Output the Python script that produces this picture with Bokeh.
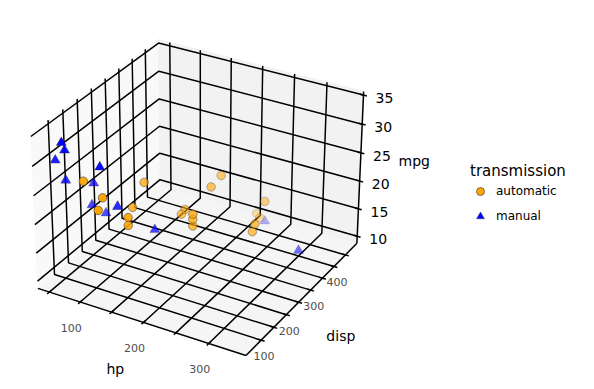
import numpy as np
from bokeh.plotting import figure
from bokeh.models import Range1d, ColumnDataSource, Legend, LegendItem
from bokeh.embed import file_html
from bokeh.resources import INLINE

auto_hp = [110, 175, 105, 245, 62, 95, 123, 123, 180, 180, 180, 205, 215, 230, 97, 150, 150, 245, 175]
auto_disp = [258, 360, 225, 360, 146.7, 140.8, 167.6, 167.6, 275.8, 275.8, 275.8, 472, 460, 440, 120.1, 318, 304, 350, 400]
auto_mpg = [21.4, 18.7, 18.1, 14.3, 24.4, 22.8, 19.2, 17.8, 16.4, 17.3, 15.2, 10.4, 10.4, 14.7, 21.5, 15.5, 15.2, 13.3, 19.2]
man_hp = [110, 110, 93, 66, 52, 65, 66, 91, 113, 264, 175, 335, 109]
man_disp = [160, 160, 108, 78.7, 75.7, 71.1, 79, 120.3, 95.1, 351, 145, 301, 121]
man_mpg = [21, 21, 22.8, 32.4, 30.4, 33.9, 27.3, 26, 30.4, 15.8, 19.7, 15, 21.4]

hp_ticks = [50, 100, 150, 200, 250, 300]
disp_ticks = [100, 150, 200, 250, 300, 350, 400, 450]
mpg_ticks = [10, 15, 20, 25, 30, 35]
hp_labels = ["", "100", "", "200", "", "300"]
disp_labels = ["100", "", "200", "", "300", "", "400", ""]
mpg_labels = ["10", "15", "20", "25", "30", "35"]

# limits of the box
g = np.array([[37.85, 349.15], [51.05, 492.05], [9.225, 35.075]])
span = g[:, 1] - g[:, 0]
b = np.array([g[:, 0] - span / 48, g[:, 1] + span / 48]).T
delta = span / 12

# ---- default 3D view: elev 30, azim -60, box aspect 4:4:3
aspect = np.array([4, 4, 3.0]) * 1.8294640721620434 / np.linalg.norm([4, 4, 3.0])
el, az, dist = np.radians(30), np.radians(-60), 10.0
R = aspect / 2
wv = np.array([np.cos(el) * np.cos(az), np.cos(el) * np.sin(az), np.sin(el)])
eye = R + dist * wv
uv = np.cross([0, 0, 1.0], wv)
uv /= np.linalg.norm(uv)
vv = np.cross(wv, uv)


def view(x, y, z):
    P = np.stack([np.asarray(x, float), np.asarray(y, float), np.asarray(z, float)], -1)
    B = (P - b[:, 0]) / (b[:, 1] - b[:, 0]) * aspect - eye
    d = -(B @ wv)
    return (B @ uv) / d, (B @ vv) / d, d


# ---- view coordinates to the page: fitted on the box corners seen in the picture
corner_idx = [(0, 0, 0), (1, 0, 0), (1, 1, 0), (1, 1, 1), (0, 1, 1), (0, 0, 1)]
corner_px = [(37.3, 287.7), (245.7, 355.5), (356, 242.3), (363.3, 90.5), (158.3, 39.5), (30, 132.5)]
cv = [view(b[0, i], b[1, j], b[2, k])[:2] for i, j, k in corner_idx]
sx, tx = np.polyfit([c[0] for c in cv], [c[0] for c in corner_px], 1)
sy, ty = np.polyfit([c[1] for c in cv], [c[1] for c in corner_px], 1)

W, H = 590, 385
p = figure(width=W, height=H, output_backend="svg", toolbar_location=None,
           x_range=Range1d((0 - tx) / sx, (W - tx) / sx),
           y_range=Range1d((H - ty) / sy, (0 - ty) / sy),
           x_axis_location=None, y_axis_location=None, min_border=0,
           outline_line_color=None, background_fill_color="white")
p.grid.visible = False


def pts(*xyz):
    a = np.array(xyz, float)
    xv, yv, _ = view(a[:, 0], a[:, 1], a[:, 2])
    return list(xv), list(yv)


xl, xh, yl, yh, zl, zh = b.ravel()

# panes
for corners, col in [
    (((xl, yl, zl), (xl, yh, zl), (xl, yh, zh), (xl, yl, zh)), "#f9f9f9"),
    (((xl, yh, zl), (xh, yh, zl), (xh, yh, zh), (xl, yh, zh)), "#f2f2f2"),
    (((xl, yl, zl), (xh, yl, zl), (xh, yh, zl), (xl, yh, zl)), "#f5f5f5"),
]:
    xs, ys = pts(*corners)
    p.patch(xs, ys, fill_color=col, line_color=col, line_width=1)

# grid lines
gx, gy = [], []
for t in hp_ticks:
    a, c = pts((t, yl, zl), (t, yh, zl), (t, yh, zh))
    gx.append(a); gy.append(c)
for t in disp_ticks:
    a, c = pts((xh, t, zl), (xl, t, zl), (xl, t, zh))
    gx.append(a); gy.append(c)
for t in mpg_ticks:
    a, c = pts((xl, yl, t), (xl, yh, t), (xh, yh, t))
    gx.append(a); gy.append(c)
p.multi_line(gx, gy, line_color="black", line_width=1.5)

# axis lines and tick marks
ax, ay = [], []
for seg in [((xl, yl, zl), (xh, yl, zl)), ((xh, yl, zl), (xh, yh, zl)), ((xh, yh, zl), (xh, yh, zh))]:
    a, c = pts(*seg)
    ax.append(a); ay.append(c)
for t in hp_ticks:
    a, c = pts((t, yl + 0.2 * delta[1], zl), (t, yl - 0.2 * delta[1], zl))
    ax.append(a); ay.append(c)
for t in disp_ticks:
    a, c = pts((xh - 0.2 * delta[0], t, zl), (xh + 0.2 * delta[0], t, zl))
    ax.append(a); ay.append(c)
for t in mpg_ticks:
    a, c = pts((xh - 0.2 * delta[0], yh, t), (xh + 0.2 * delta[0], yh, t))
    ax.append(a); ay.append(c)
p.multi_line(ax, ay, line_color="black", line_width=1.5)


def series(hp, disp, mpg):
    xv, yv, d = view(hp, disp, mpg)
    o = np.argsort(-d)
    alpha = 1 - 0.7 * (d - d.min()) / (d.max() - d.min())
    return ColumnDataSource(dict(x=xv[o], y=yv[o], a=alpha[o]))


src_a, src_m = series(auto_hp, auto_disp, auto_mpg), series(man_hp, man_disp, man_mpg)
r_m = p.scatter("x", "y", source=src_m, marker="triangle", size=10, fill_color="blue", line_color="#333333",
                fill_alpha="a", line_alpha="a", line_width=0.4)
r_a = p.scatter("x", "y", source=src_a, marker="circle", size=8.5, fill_color="orange", line_color="#333333",
                fill_alpha="a", line_alpha="a", line_width=0.6)


def text(xv, yv, labels, dx, dy, size, color):
    p.text(xv, yv, text=labels, x_offset=dx, y_offset=dy, text_font_size=size, text_color=color,
           text_align="center", text_baseline="middle", text_font={"value": "DejaVu Sans"})


xv, yv = pts(*[(t, yl, zl) for t in hp_ticks])
text(xv, yv, hp_labels, -9, 26, "11px", "#4d4d4d")
xv, yv = pts(*[(xh, t, zl) for t in disp_ticks])
text(xv, yv, disp_labels, 3, 16, "11px", "#4d4d4d")
xv, yv = pts(*[(xh, yh, t) for t in mpg_ticks])
text(xv, yv, mpg_labels, 21, 3, "14px", "black")
mid = lambda lo, hi: (lo + hi) / 2
xv, yv = pts((mid(xl, xh), yl, zl))
text(xv, yv, ["hp"], -24, 48, "14px", "black")
xv, yv = pts((xh, mid(yl, yh), zl))
text(xv, yv, ["disp"], 37, 39, "14px", "black")
xv, yv = pts((xh, yh, mid(zl, zh)))
text(xv, yv, ["mpg"], 54, -8, "14px", "black")

legend = Legend(
    items=[LegendItem(label="automatic", renderers=[r_a], index=len(auto_hp) - 1),
           LegendItem(label="manual", renderers=[r_m], index=len(man_hp) - 1)],
    title="transmission", location=(470, 159), orientation="vertical",
    padding=0, margin=0, spacing=5, glyph_width=20, glyph_height=20, label_standoff=6,
    title_standoff=1, background_fill_alpha=0, border_line_alpha=0, click_policy="none",
    label_text_font="DejaVu Sans", label_text_font_size="12px", label_text_color="black",
    title_text_font="DejaVu Sans", title_text_font_size="15px", title_text_font_style="normal",
    title_text_color="black")
p.add_layout(legend)

open("out.html", "w").write(file_html(p, INLINE))
